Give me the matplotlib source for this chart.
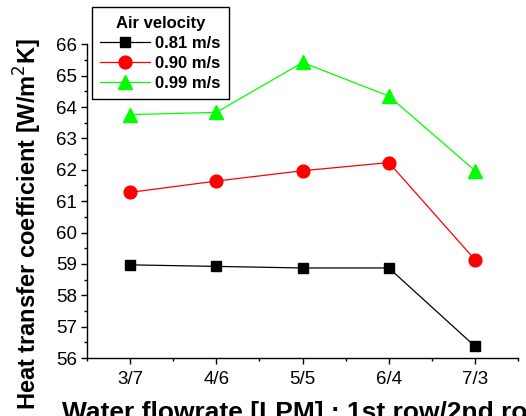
import matplotlib
matplotlib.use("Agg")
import matplotlib.pyplot as plt
from matplotlib.ticker import MultipleLocator

plt.rcParams["font.family"] = ["Liberation Sans", "DejaVu Sans"]

# Water flow split between the two tube rows (LPM)
flow_labels = ["3/7", "4/6", "5/5", "6/4", "7/3"]

# Heat transfer coefficient [W/m^2K] per air velocity
htc_081 = [58.97, 58.92, 58.87, 58.87, 56.37]
htc_090 = [61.28, 61.64, 61.97, 62.23, 59.13]
htc_099 = [63.76, 63.83, 65.42, 64.35, 61.97]

series = [
    ("0.81 m/s", htc_081, "#000000", "s", 7.7),
    ("0.90 m/s", htc_090, "#ff0000", "o", 9.2),
    ("0.99 m/s", htc_099, "#00ff00", "^", 10.0),
]

fig = plt.figure(figsize=(5.26, 4.16), dpi=100)
ax = fig.add_axes([0.1654, 0.1394, 0.8198, 0.7541])

x = list(range(1, len(flow_labels) + 1))
for label, vals, color, marker, ms in series:
    ax.plot(x, vals, color=color, linewidth=0.9, marker=marker, markersize=ms,
            markerfacecolor=color, markeredgecolor=color, label=label)

ax.set_xlim(0.5, 5.5)
ax.set_ylim(56, 66)
ax.set_xticks(x)
ax.set_xticklabels(flow_labels)
ax.xaxis.set_minor_locator(MultipleLocator(0.5))
ax.yaxis.set_major_locator(MultipleLocator(1))
ax.yaxis.set_minor_locator(MultipleLocator(0.5))

for side in ("top", "right"):
    ax.spines[side].set_visible(False)
for side in ("left", "bottom"):
    ax.spines[side].set_linewidth(1.0)

ax.tick_params(axis="both", which="major", direction="out", length=4, width=1.0,
               labelsize=13.5, pad=3)
ax.tick_params(axis="both", which="minor", direction="out", length=2.5, width=1.0)
ax.tick_params(axis="x", which="major", pad=5)

ax.set_ylabel("Heat transfer coefficient [W/m$^2$K]", fontsize=17, fontweight="bold")
ax.yaxis.set_label_coords(-0.100, 0.427)
fig.text(62 / 526, -3.6 / 416, "Water flowrate [LPM] : 1st row/2nd row",
         fontsize=19, fontweight="bold", ha="left", va="baseline")

leg = ax.legend(title="Air velocity", loc="upper left",
                bbox_to_anchor=(91.7 / 526, 1 - 7.3 / 416), bbox_transform=fig.transFigure,
                borderaxespad=0, fancybox=False, frameon=True, edgecolor="black",
                framealpha=1, numpoints=1, handlelength=3.0, handletextpad=0.3,
                labelspacing=0.3, borderpad=0.5,
                prop={"weight": "bold", "size": 12},
                title_fontproperties={"weight": "bold", "size": 12})
leg.get_frame().set_linewidth(1.0)

fig.savefig("out.png", dpi=100)
